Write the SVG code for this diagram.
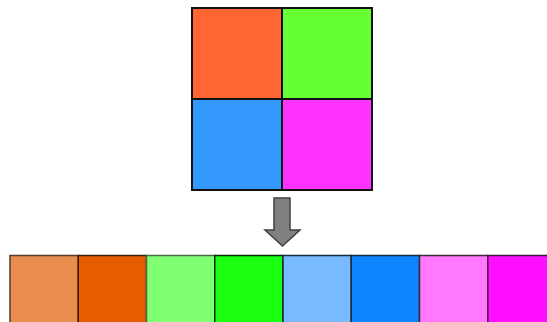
<svg xmlns="http://www.w3.org/2000/svg" width="547" height="322" viewBox="0 0 547 322">
<style>
.q{stroke:#111;stroke-width:2}
.s{stroke-width:1.5}
.arrow{fill:#808080;stroke:#404040;stroke-width:1.5;stroke-linejoin:miter}
</style>
<rect width="547" height="322" fill="#fff"/>
<g id="quad">
<rect id="q1" class="q" x="192" y="8" width="90" height="91" fill="#FF6633"/>
<rect id="q2" class="q" x="282" y="8" width="90" height="91" fill="#66FF33"/>
<rect id="q3" class="q" x="192" y="99" width="90" height="91" fill="#3399FF"/>
<rect id="q4" class="q" x="282" y="99" width="90" height="91" fill="#FF33FF"/>
</g>
<g id="connectors">
<path class="arrow" d="M274,198 H290 V230 H300 L282.5,246 L265,230 H274 Z"/>
</g>
<g id="strip">
<rect id="s1" class="s" x="10" y="255.5" width="68.25" height="70" fill="#E98D4F" stroke="#5a3a28"/>
<rect id="s2" class="s" x="78.25" y="255.5" width="68.25" height="70" fill="#E85C00" stroke="#3a1c08"/>
<rect id="s3" class="s" x="146.5" y="255.5" width="68.25" height="70" fill="#80FF73" stroke="#4a6a48"/>
<rect id="s4" class="s" x="214.75" y="255.5" width="68.25" height="70" fill="#1AFF0F" stroke="#0a2a0a"/>
<rect id="s5" class="s" x="283" y="255.5" width="68.25" height="70" fill="#78B9FF" stroke="#1a2a3a"/>
<rect id="s6" class="s" x="351.25" y="255.5" width="68.25" height="70" fill="#0D85FF" stroke="#1a2a3a"/>
<rect id="s7" class="s" x="419.5" y="255.5" width="68.25" height="70" fill="#FF78FF" stroke="#3a2a3a"/>
<rect id="s8" class="s" x="487.75" y="255.5" width="68.25" height="70" fill="#FF0FFF" stroke="#3a1a3a"/>
</g>
</svg>
